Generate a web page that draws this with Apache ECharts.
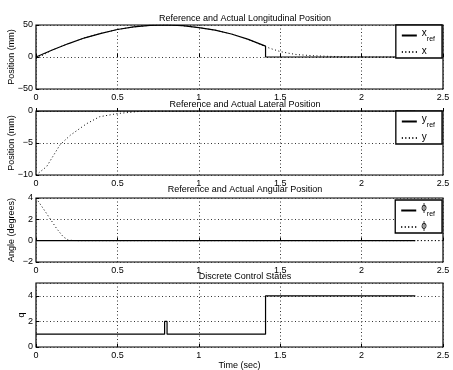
<!DOCTYPE html>
<html><head><meta charset="utf-8">
<script src="https://cdn.jsdelivr.net/npm/echarts@6/dist/echarts.min.js"></script>
<style>html,body{margin:0;padding:0;background:#fff}#c{width:453px;height:370px}</style>
</head><body><div id="c"></div>
<script>
// ---- data ----
const xRefT = [0,0.1,0.2,0.3,0.4,0.5,0.6,0.7,0.8,0.9,1.0,1.1,1.2,1.3,1.41,1.41,2.33];
const xRefV = [0,11,21,30,37,43,47,49.5,50,49,46,42,36,28,17,0,0];
const xT = [0,0.05,0.1,0.2,0.3,0.4,0.5,0.6,0.7,0.8,0.9,1.0,1.1,1.2,1.3,1.41,1.45,1.5,1.55,1.6,1.7,1.8,1.9,2.0,2.33];
const xV = [-3,4,11,21,30,37,43,47,49.5,50,49,46,42,36,28,16,12.5,8.5,6,3.8,2,1,0.4,0,0];
const yRefT = [0,2.33];
const yRefV = [0,0];
const yT = [0,0.065,0.147,0.21,0.31,0.39,0.5,0.64,0.75,2.33];
const yV = [-10,-8.7,-5.3,-3.8,-2,-0.9,-0.4,-0.05,0,0];
const phiRefT = [0,2.33];
const phiRefV = [0,0];
const phiT = [0,0.045,0.086,0.127,0.168,0.2,0.25,2.5];
const phiV = [4,3.0,2.07,1.13,0.35,0.05,0,0];
const qT = [0,0.79,0.805,1.41,2.33];
const qV = [1,2,1,4,4];
const titles = ['Reference and Actual Longitudinal Position','Reference and Actual Lateral Position','Reference and Actual Angular Position','Discrete Control States'];
const xTicks = [0,0.5,1,1.5,2,2.5];

const pairs = (t,v)=>t.map((x,i)=>[x,v[i]]);
const FONT = 'Liberation Sans';
const tops = [25,111,198,283];
const H = 64;
const chart = echarts.init(document.getElementById('c'));
const minus = v => String(v).replace('-', '\u2212');
const dot = [1,2.5];
const grids = tops.map(t=>({left:36,right:10,top:t,height:H,show:true,borderColor:'#000',borderWidth:1.2,
  backgroundColor:'transparent',containLabel:false,outerBoundsMode:'none'}));
const xAxes = tops.map((t,i)=>({type:'value',gridIndex:i,min:0,max:2.5,interval:0.5,
  axisLine:{show:false},axisTick:{inside:true,length:3,lineStyle:{color:'#000'}},
  axisLabel:{color:'#000',fontFamily:FONT,fontSize:9,margin:4,formatter:v=>String(v)},
  splitLine:{show:true,lineStyle:{color:'#333',type:dot,width:1}},
  name: i===3?'Time (sec)':'', nameLocation:'middle', nameGap:14, nameMoveOverlap:false,
  nameTextStyle:{color:'#000',fontFamily:FONT,fontSize:9}}));
const yCfg = [[-50,50,50,'Position (mm)'],[-10,0,5,'Position (mm)'],[-2,4,2,'Angle (degrees)'],[0,5,2,'q']];
const yAxes = yCfg.map((c,i)=>({type:'value',gridIndex:i,min:c[0],max:c[1],interval:c[2],
  axisLine:{show:false},axisTick:{inside:true,length:3,lineStyle:{color:'#000'}},
  axisLabel:{color:'#000',fontFamily:FONT,fontSize:9,margin:3,showMaxLabel:i!==3,formatter:v=>minus(v)},
  splitLine:{show:true,lineStyle:{color:'#333',type:dot,width:1}},
  name:c[3],nameLocation:'middle',nameGap:i===3?10:20,nameRotate:90,nameMoveOverlap:false,
  nameTextStyle:{color:'#000',fontFamily:FONT,fontSize:9}}));
const solid = (name,i,d,step)=>({type:'line',name,xAxisIndex:i,yAxisIndex:i,data:d,symbol:'none',step:step||false,
  lineStyle:{color:'#000',width:1.2,type:'solid'},itemStyle:{color:'#000'},silent:true,animation:false});
const dotted = (name,i,d)=>({type:'line',name,xAxisIndex:i,yAxisIndex:i,data:d,symbol:'none',
  lineStyle:{color:'#000',width:1,type:dot},itemStyle:{color:'#000'},silent:true,animation:false});
const rich = {b:{fontFamily:FONT,fontSize:10,color:'#000',lineHeight:12,verticalAlign:'top'},
              s:{fontFamily:FONT,fontSize:7,color:'#000',lineHeight:15,verticalAlign:'bottom'}};
const fmt = n => { const p=n.split('_'); return p[1]?`{b|${p[0]}}{s|${p[1]}}`:`{b|${p[0]}}`; };
const legend = (names,top)=>({orient:'vertical',right:11,top:top,data:names,itemWidth:15,itemHeight:6,itemGap:3,
  padding:[3,7,2,5],borderColor:'#000',borderWidth:1.3,backgroundColor:'#fff',selectedMode:false,
  itemStyle:{color:'rgba(0,0,0,0)',borderWidth:0,borderColor:'rgba(0,0,0,0)',opacity:0},
  formatter:fmt,textStyle:{rich}});
chart.setOption({
  animation:false,
  title: titles.map((t,i)=>({text:t,left:240,textAlign:'center',top:[9,95,180,267][i],
    textStyle:{fontFamily:FONT,fontSize:9,fontWeight:'normal',color:'#000'}})),
  grid:grids, xAxis:xAxes, yAxis:yAxes,
  legend:[legend(['x_ref','x'],25),legend(['y_ref','y'],111),legend(['ϕ_ref','ϕ'],200)],
  series:[
    solid('x_ref',0,pairs(xRefT,xRefV)), dotted('x',0,pairs(xT,xV)),
    solid('y_ref',1,pairs(yRefT,yRefV)), dotted('y',1,pairs(yT,yV)),
    solid('ϕ_ref',2,pairs(phiRefT,phiRefV)), dotted('ϕ',2,pairs(phiT,phiV)),
    solid('q',3,pairs(qT,qV),'end')
  ]
});
</script></body></html>
